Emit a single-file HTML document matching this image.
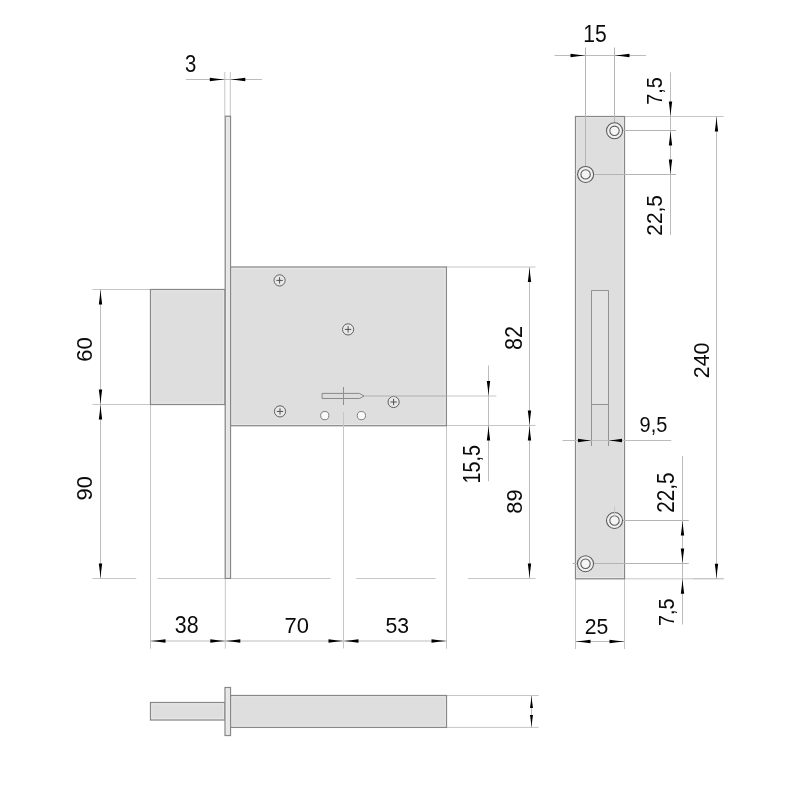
<!DOCTYPE html>
<html><head><meta charset="utf-8"><style>html,body{margin:0;padding:0;background:#fff;width:800px;height:800px;overflow:hidden}svg{display:block;will-change:transform}</style></head>
<body><svg width="800" height="800" viewBox="0 0 800 800">
<rect width="800" height="800" fill="#fff"/>
<line x1="224.8" y1="72" x2="224.8" y2="116" stroke="#c6c6c6" stroke-width="1"/>
<line x1="230.3" y1="72" x2="230.3" y2="116" stroke="#c6c6c6" stroke-width="1"/>
<line x1="186" y1="79.5" x2="262" y2="79.5" stroke="#bcbcbc" stroke-width="1"/>
<path d="M224.80,79.50 Q217.30,80.09 209.80,81.20 L209.80,77.80 Q217.30,78.91 224.80,79.50Z" fill="#000"/>
<path d="M230.30,79.50 Q237.80,78.91 245.30,77.80 L245.30,81.20 Q237.80,80.09 230.30,79.50Z" fill="#000"/>
<text transform="translate(184.969,72.287) scale(0.9231,1.0637)" font-family="Liberation Sans" font-size="22" fill="#0a0a0a">3</text>
<line x1="92.5" y1="289.5" x2="150.5" y2="289.5" stroke="#c6c6c6" stroke-width="1"/>
<line x1="92.5" y1="404.5" x2="150.5" y2="404.5" stroke="#c6c6c6" stroke-width="1"/>
<line x1="100.5" y1="289.5" x2="100.5" y2="578.5" stroke="#bcbcbc" stroke-width="1"/>
<path d="M100.50,289.50 Q101.09,297.00 102.20,304.50 L98.80,304.50 Q99.91,297.00 100.50,289.50Z" fill="#000"/>
<path d="M100.50,404.50 Q99.91,397.00 98.80,389.50 L102.20,389.50 Q101.09,397.00 100.50,404.50Z" fill="#000"/>
<path d="M100.50,404.50 Q101.09,412.00 102.20,419.50 L98.80,419.50 Q99.91,412.00 100.50,404.50Z" fill="#000"/>
<path d="M100.50,578.50 Q99.91,571.00 98.80,563.50 L102.20,563.50 Q101.09,571.00 100.50,578.50Z" fill="#000"/>
<text transform="translate(91.794,361.705) rotate(-90) scale(1.0044,1.0287)" font-family="Liberation Sans" font-size="22" fill="#0a0a0a">60</text>
<text transform="translate(91.794,500.496) rotate(-90) scale(0.9956,1.0287)" font-family="Liberation Sans" font-size="22" fill="#0a0a0a">90</text>
<line x1="92.5" y1="578.5" x2="136.25" y2="578.5" stroke="#c6c6c6" stroke-width="1"/>
<line x1="157.5" y1="578.5" x2="330.5" y2="578.5" stroke="#c6c6c6" stroke-width="1"/>
<line x1="356.25" y1="578.5" x2="435.5" y2="578.5" stroke="#c6c6c6" stroke-width="1"/>
<line x1="468" y1="578.5" x2="535.5" y2="578.5" stroke="#c6c6c6" stroke-width="1"/>
<line x1="150.5" y1="404.5" x2="150.5" y2="648.75" stroke="#c6c6c6" stroke-width="1"/>
<line x1="225.3" y1="578.5" x2="225.3" y2="648.75" stroke="#c6c6c6" stroke-width="1"/>
<line x1="446.5" y1="425.5" x2="446.5" y2="648.75" stroke="#c6c6c6" stroke-width="1"/>
<line x1="150.5" y1="641" x2="446.5" y2="641" stroke="#bcbcbc" stroke-width="1"/>
<path d="M150.50,641.00 Q158.00,640.40 165.50,639.30 L165.50,642.70 Q158.00,641.60 150.50,641.00Z" fill="#000"/>
<path d="M225.30,641.00 Q217.80,641.60 210.30,642.70 L210.30,639.30 Q217.80,640.40 225.30,641.00Z" fill="#000"/>
<path d="M225.30,641.00 Q232.80,640.40 240.30,639.30 L240.30,642.70 Q232.80,641.60 225.30,641.00Z" fill="#000"/>
<path d="M343.50,641.00 Q336.00,641.60 328.50,642.70 L328.50,639.30 Q336.00,640.40 343.50,641.00Z" fill="#000"/>
<path d="M343.50,641.00 Q351.00,640.40 358.50,639.30 L358.50,642.70 Q351.00,641.60 343.50,641.00Z" fill="#000"/>
<path d="M446.50,641.00 Q439.00,641.60 431.50,642.70 L431.50,639.30 Q439.00,640.40 446.50,641.00Z" fill="#000"/>
<text transform="translate(174.874,633.038) scale(0.9735,1.0605)" font-family="Liberation Sans" font-size="22" fill="#0a0a0a">38</text>
<text transform="translate(284.400,632.991) scale(1.0000,1.0446)" font-family="Liberation Sans" font-size="22" fill="#0a0a0a">70</text>
<text transform="translate(385.384,632.991) scale(0.9624,1.0446)" font-family="Liberation Sans" font-size="22" fill="#0a0a0a">53</text>
<line x1="446.5" y1="267.0" x2="535.5" y2="267.0" stroke="#c6c6c6" stroke-width="1"/>
<line x1="446.5" y1="425.5" x2="535.5" y2="425.5" stroke="#c6c6c6" stroke-width="1"/>
<line x1="529.5" y1="267.5" x2="529.5" y2="578.5" stroke="#bcbcbc" stroke-width="1"/>
<path d="M529.50,267.00 Q530.10,274.50 531.20,282.00 L527.80,282.00 Q528.90,274.50 529.50,267.00Z" fill="#000"/>
<path d="M529.50,425.50 Q528.90,418.00 527.80,410.50 L531.20,410.50 Q530.10,418.00 529.50,425.50Z" fill="#000"/>
<path d="M529.50,425.50 Q530.10,433.00 531.20,440.50 L527.80,440.50 Q528.90,433.00 529.50,425.50Z" fill="#000"/>
<path d="M529.50,578.50 Q528.90,571.00 527.80,563.50 L531.20,563.50 Q530.10,571.00 529.50,578.50Z" fill="#000"/>
<text transform="translate(521.790,349.982) rotate(-90) scale(0.9821,1.0513)" font-family="Liberation Sans" font-size="22" fill="#0a0a0a">82</text>
<text transform="translate(521.791,513.743) rotate(-90) scale(0.9933,1.0446)" font-family="Liberation Sans" font-size="22" fill="#0a0a0a">89</text>
<line x1="446.5" y1="396" x2="496.25" y2="396" stroke="#c6c6c6" stroke-width="1"/>
<line x1="488.5" y1="365.5" x2="488.5" y2="481.25" stroke="#bcbcbc" stroke-width="1"/>
<path d="M488.50,396.00 Q487.90,388.50 486.80,381.00 L490.20,381.00 Q489.10,388.50 488.50,396.00Z" fill="#000"/>
<path d="M488.50,425.50 Q489.10,433.00 490.20,440.50 L486.80,440.50 Q487.90,433.00 488.50,425.50Z" fill="#000"/>
<text transform="translate(479.788,483.527) rotate(-90) scale(0.8980,1.0584)" font-family="Liberation Sans" font-size="22" fill="#0a0a0a">15,5</text>
<rect x="150.5" y="289.5" width="74.5" height="115.0" fill="#dedede" stroke="#888888" stroke-width="1.25"/>
<rect x="151.8" y="290.8" width="71.9" height="112.4" fill="none" stroke="#ebebeb" stroke-width="0.8"/>
<rect x="230.5" y="267.0" width="215.89999999999998" height="158.7" fill="#dedede" stroke="#888888" stroke-width="1.25"/>
<rect x="231.8" y="268.3" width="213.29999999999998" height="156.1" fill="none" stroke="#ebebeb" stroke-width="0.8"/>
<rect x="225.2" y="116.25" width="5.300000000000011" height="462.15" fill="#e6e6e6" stroke="#888888" stroke-width="1.25"/>
<rect x="226.5" y="117.55" width="2.7000000000000113" height="459.54999999999995" fill="none" stroke="#ebebeb" stroke-width="0.8"/>
<circle cx="279.6" cy="280.4" r="5.6" fill="#e8e8e8" stroke="#606060" stroke-width="1"/>
<line x1="276.40000000000003" y1="280.4" x2="282.8" y2="280.4" stroke="#505050" stroke-width="1"/>
<line x1="279.6" y1="277.2" x2="279.6" y2="283.59999999999997" stroke="#505050" stroke-width="1"/>
<circle cx="348.1" cy="329.4" r="5.6" fill="#e8e8e8" stroke="#606060" stroke-width="1"/>
<line x1="344.90000000000003" y1="329.4" x2="351.3" y2="329.4" stroke="#505050" stroke-width="1"/>
<line x1="348.1" y1="326.2" x2="348.1" y2="332.59999999999997" stroke="#505050" stroke-width="1"/>
<circle cx="280" cy="411.4" r="5.6" fill="#e8e8e8" stroke="#606060" stroke-width="1"/>
<line x1="276.8" y1="411.4" x2="283.2" y2="411.4" stroke="#505050" stroke-width="1"/>
<line x1="280" y1="408.2" x2="280" y2="414.59999999999997" stroke="#505050" stroke-width="1"/>
<circle cx="393.6" cy="402" r="5.6" fill="#e8e8e8" stroke="#606060" stroke-width="1"/>
<line x1="390.40000000000003" y1="402" x2="396.8" y2="402" stroke="#505050" stroke-width="1"/>
<line x1="393.6" y1="398.8" x2="393.6" y2="405.2" stroke="#505050" stroke-width="1"/>
<line x1="364.5" y1="396" x2="446.5" y2="396" stroke="#b0b0b0" stroke-width="1"/>
<path d="M322.1,393.4 L359.5,393.4 L364.1,396 L359.5,398.5 L322.1,398.5 Z" fill="#dcdcdc" stroke="#808080" stroke-width="0.9"/>
<line x1="343.5" y1="387" x2="343.5" y2="405" stroke="#909090" stroke-width="1"/>
<line x1="343.5" y1="412" x2="343.5" y2="648.5" stroke="#c6c6c6" stroke-width="1"/>
<circle cx="324.8" cy="415.6" r="4.1" fill="#fafafa" stroke="#777" stroke-width="0.95"/>
<circle cx="361.4" cy="415.6" r="4.1" fill="#fafafa" stroke="#777" stroke-width="0.95"/>
<line x1="554.5" y1="55.5" x2="646" y2="55.5" stroke="#bcbcbc" stroke-width="1"/>
<path d="M585.50,55.50 Q578.00,56.09 570.50,57.20 L570.50,53.80 Q578.00,54.91 585.50,55.50Z" fill="#000"/>
<path d="M614.50,55.50 Q622.00,54.91 629.50,53.80 L629.50,57.20 Q622.00,56.09 614.50,55.50Z" fill="#000"/>
<text transform="translate(583.370,41.790) scale(0.9587,1.0487)" font-family="Liberation Sans" font-size="22" fill="#0a0a0a">15</text>
<line x1="624.5" y1="116.5" x2="723.75" y2="116.5" stroke="#c6c6c6" stroke-width="1"/>
<line x1="670.5" y1="72.25" x2="670.5" y2="235" stroke="#bcbcbc" stroke-width="1"/>
<path d="M670.50,116.50 Q669.90,109.00 668.80,101.50 L672.20,101.50 Q671.10,109.00 670.50,116.50Z" fill="#000"/>
<path d="M670.50,130.50 Q671.10,138.00 672.20,145.50 L668.80,145.50 Q669.90,138.00 670.50,130.50Z" fill="#000"/>
<path d="M670.50,174.50 Q669.90,167.00 668.80,159.50 L672.20,159.50 Q671.10,167.00 670.50,174.50Z" fill="#000"/>
<text transform="translate(662.047,104.740) rotate(-90) scale(0.9003,1.0162)" font-family="Liberation Sans" font-size="22" fill="#0a0a0a">7,5</text>
<text transform="translate(662.295,235.746) rotate(-90) scale(0.9510,1.0256)" font-family="Liberation Sans" font-size="22" fill="#0a0a0a">22,5</text>
<line x1="716.5" y1="116.5" x2="716.5" y2="578.8" stroke="#bcbcbc" stroke-width="1"/>
<path d="M716.50,116.50 Q717.10,124.00 718.20,131.50 L714.80,131.50 Q715.90,124.00 716.50,116.50Z" fill="#000"/>
<path d="M716.50,578.80 Q715.90,571.30 714.80,563.80 L718.20,563.80 Q717.10,571.30 716.50,578.80Z" fill="#000"/>
<text transform="translate(709.196,378.271) rotate(-90) scale(0.9741,1.0223)" font-family="Liberation Sans" font-size="22" fill="#0a0a0a">240</text>
<text transform="translate(639.594,432.044) scale(0.9059,1.0287)" font-family="Liberation Sans" font-size="22" fill="#0a0a0a">9,5</text>
<line x1="624.5" y1="578.8" x2="693" y2="578.8" stroke="#c6c6c6" stroke-width="1"/>
<line x1="693" y1="578.8" x2="723.75" y2="578.8" stroke="#b0b0b0" stroke-width="1"/>
<line x1="682.5" y1="456" x2="682.5" y2="624.5" stroke="#bcbcbc" stroke-width="1"/>
<path d="M682.50,520.50 Q683.10,528.00 684.20,535.50 L680.80,535.50 Q681.90,528.00 682.50,520.50Z" fill="#000"/>
<path d="M682.50,563.50 Q681.90,556.00 680.80,548.50 L684.20,548.50 Q683.10,556.00 682.50,563.50Z" fill="#000"/>
<path d="M682.50,578.80 Q683.10,586.30 684.20,593.80 L680.80,593.80 Q681.90,586.30 682.50,578.80Z" fill="#000"/>
<text transform="translate(673.840,512.737) rotate(-90) scale(0.9424,1.0481)" font-family="Liberation Sans" font-size="22" fill="#0a0a0a">22,5</text>
<text transform="translate(673.544,625.990) rotate(-90) scale(0.9003,1.0325)" font-family="Liberation Sans" font-size="22" fill="#0a0a0a">7,5</text>
<line x1="575.5" y1="578.8" x2="575.5" y2="649" stroke="#c6c6c6" stroke-width="1"/>
<line x1="624.5" y1="578.8" x2="624.5" y2="649" stroke="#c6c6c6" stroke-width="1"/>
<line x1="575.5" y1="641.5" x2="624.5" y2="641.5" stroke="#bcbcbc" stroke-width="1"/>
<path d="M575.50,641.50 Q583.00,640.90 590.50,639.80 L590.50,643.20 Q583.00,642.10 575.50,641.50Z" fill="#000"/>
<path d="M624.50,641.50 Q617.00,642.10 609.50,643.20 L609.50,639.80 Q617.00,640.90 624.50,641.50Z" fill="#000"/>
<text transform="translate(584.739,634.293) scale(0.9643,1.0353)" font-family="Liberation Sans" font-size="22" fill="#0a0a0a">25</text>
<rect x="575.5" y="116.5" width="49.0" height="462.29999999999995" fill="#dedede" stroke="#888888" stroke-width="1.25"/>
<rect x="576.8" y="117.8" width="46.4" height="459.69999999999993" fill="none" stroke="#ebebeb" stroke-width="0.8"/>
<rect x="591.5" y="290.5" width="17" height="114" fill="#e3e3e3"/>
<path d="M591.5,446 L591.5,290.5 L608.5,290.5 L608.5,446" fill="none" stroke="#8a8a8a" stroke-width="0.9"/>
<line x1="591.5" y1="404.5" x2="608.5" y2="404.5" stroke="#8a8a8a" stroke-width="0.9"/>
<line x1="614.5" y1="47.5" x2="614.5" y2="131" stroke="#b4b4b4" stroke-width="1"/>
<line x1="585.5" y1="47.5" x2="585.5" y2="174.5" stroke="#b4b4b4" stroke-width="1"/>
<line x1="562.5" y1="440.5" x2="671.25" y2="440.5" stroke="#bcbcbc" stroke-width="1"/>
<path d="M591.50,440.50 Q584.75,441.10 578.00,442.20 L578.00,438.80 Q584.75,439.90 591.50,440.50Z" fill="#000"/>
<path d="M608.50,440.50 Q615.25,439.90 622.00,438.80 L622.00,442.20 Q615.25,441.10 608.50,440.50Z" fill="#000"/>
<line x1="614.5" y1="130.5" x2="676" y2="130.5" stroke="#b4b4b4" stroke-width="1"/>
<line x1="585.5" y1="174.5" x2="676" y2="174.5" stroke="#b4b4b4" stroke-width="1"/>
<line x1="575.5" y1="174.5" x2="585.5" y2="174.5" stroke="#cfcfcf" stroke-width="1"/>
<line x1="614.5" y1="520.5" x2="688.75" y2="520.5" stroke="#b4b4b4" stroke-width="1"/>
<line x1="572.5" y1="563.5" x2="688.75" y2="563.5" stroke="#b4b4b4" stroke-width="1"/>
<circle cx="614.5" cy="130.8" r="8.0" fill="#f0f0f0" stroke="#5a5a5a" stroke-width="1.05"/>
<circle cx="614.5" cy="130.8" r="4.7" fill="#f4f4f4" stroke="#5a5a5a" stroke-width="1.05"/>
<circle cx="585.6" cy="174.4" r="8.0" fill="#f0f0f0" stroke="#5a5a5a" stroke-width="1.05"/>
<circle cx="585.6" cy="174.4" r="4.7" fill="#f4f4f4" stroke="#5a5a5a" stroke-width="1.05"/>
<circle cx="614.5" cy="520.5" r="8.0" fill="#f0f0f0" stroke="#5a5a5a" stroke-width="1.05"/>
<circle cx="614.5" cy="520.5" r="4.7" fill="#f4f4f4" stroke="#5a5a5a" stroke-width="1.05"/>
<circle cx="585.5" cy="563.7" r="8.0" fill="#f0f0f0" stroke="#5a5a5a" stroke-width="1.05"/>
<circle cx="585.5" cy="563.7" r="4.7" fill="#f4f4f4" stroke="#5a5a5a" stroke-width="1.05"/>
<line x1="614.6" y1="506.5" x2="614.6" y2="516" stroke="#c6c6c6" stroke-width="1"/>
<line x1="446.5" y1="695.5" x2="538.75" y2="695.5" stroke="#c6c6c6" stroke-width="1"/>
<line x1="446.5" y1="727.4" x2="538.75" y2="727.4" stroke="#c6c6c6" stroke-width="1"/>
<line x1="531.5" y1="695.5" x2="531.5" y2="727.4" stroke="#bcbcbc" stroke-width="1"/>
<path d="M531.50,695.50 Q532.02,701.75 533.00,708.00 L530.00,708.00 Q530.98,701.75 531.50,695.50Z" fill="#000"/>
<path d="M531.50,727.40 Q530.98,721.15 530.00,714.90 L533.00,714.90 Q532.02,721.15 531.50,727.40Z" fill="#000"/>
<rect x="150.5" y="702.5" width="74.5" height="17.5" fill="#dedede" stroke="#888888" stroke-width="1.25"/>
<rect x="151.8" y="703.8" width="71.9" height="14.9" fill="none" stroke="#ebebeb" stroke-width="0.8"/>
<rect x="230.5" y="695.5" width="216.0" height="31.899999999999977" fill="#dedede" stroke="#888888" stroke-width="1.25"/>
<rect x="231.8" y="696.8" width="213.4" height="29.299999999999976" fill="none" stroke="#ebebeb" stroke-width="0.8"/>
<rect x="225" y="687.5" width="5.5" height="48.0" fill="#e6e6e6" stroke="#888888" stroke-width="1.25"/>
<rect x="226.3" y="688.8" width="2.9" height="45.4" fill="none" stroke="#ebebeb" stroke-width="0.8"/>
</svg></body></html>
